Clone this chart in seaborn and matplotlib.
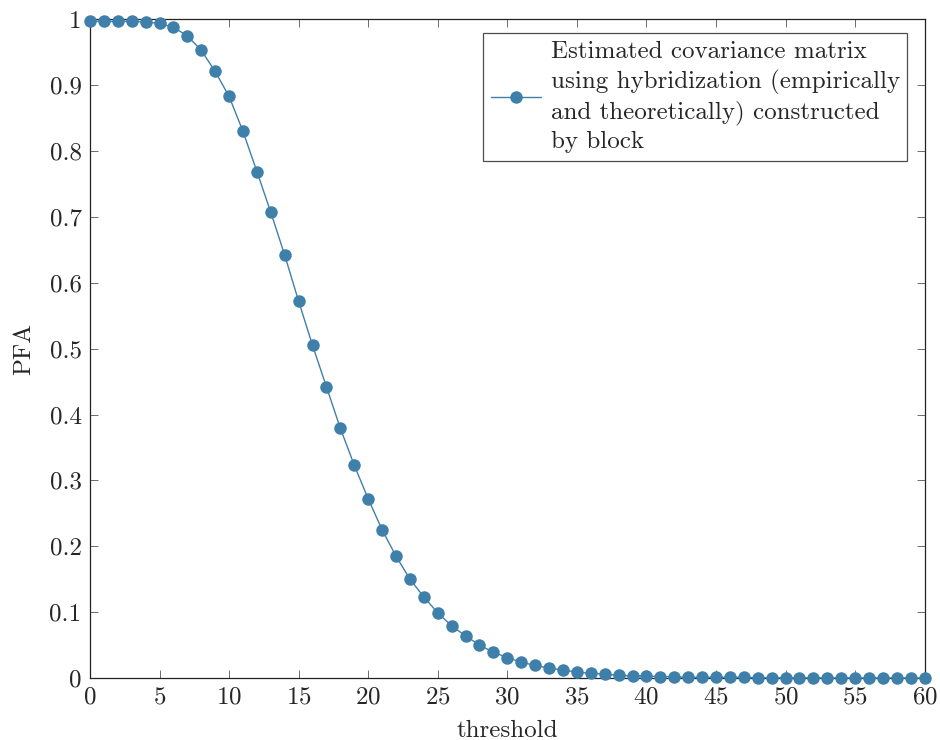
import numpy as np
import pandas as pd
import matplotlib
matplotlib.use("Agg")
import matplotlib.pyplot as plt
import seaborn as sns

sns.set_style("ticks")
plt.rcParams['font.family'] = ['cmr10', 'DejaVu Serif']
plt.rcParams['axes.formatter.use_mathtext'] = True
plt.rcParams['mathtext.fontset'] = 'cm'

# data
threshold = list(range(0, 61))
pfa = [0.997, 0.997, 0.997, 0.997, 0.996, 0.994, 0.988, 0.975, 0.953, 0.921,
       0.883, 0.830, 0.769, 0.707, 0.642, 0.572, 0.505, 0.442, 0.379, 0.323,
       0.272, 0.225, 0.185, 0.150, 0.123, 0.099, 0.079, 0.064, 0.050, 0.039,
       0.031, 0.024, 0.019, 0.015, 0.012, 0.009, 0.007, 0.006, 0.004, 0.003,
       0.003, 0.002, 0.002, 0.001, 0.001, 0.001, 0.001, 0.001, 0.0005, 0.0005,
       0.0004, 0.0003, 0.0003, 0.0002, 0.0002, 0.0001, 0.0001, 0.0001, 0.0001, 0.0, 0.0]
label = ("Estimated covariance matrix\nusing hybridization (empirically\n"
         "and theoretically) constructed\nby block")

df = pd.DataFrame({'threshold': threshold, 'PFA': pfa})

fig = plt.figure(figsize=(9.4, 7.4), dpi=100)
ax = fig.add_axes([0.0957, 0.0838, 0.888, 0.890])
sns.lineplot(x='threshold', y='PFA', data=df, ax=ax, color='#3f80aa',
             marker='o', markersize=9, markeredgewidth=0, linewidth=1.0,
             label=label, clip_on=False, zorder=3)

ax.set_xlim(0, 60)
ax.set_ylim(0, 1)
ax.set_xticks(np.arange(0, 61, 5))
ax.set_yticks(np.arange(0, 1.01, 0.1))
ax.set_yticklabels(['0', '0.1', '0.2', '0.3', '0.4', '0.5', '0.6', '0.7', '0.8', '0.9', '1'])
ax.tick_params(direction='in', top=True, right=True, labelsize=18, length=6,
               width=0.6, color='#555555', pad=6)
for s in ax.spines.values():
    s.set_linewidth(0.9)
    s.set_color('#222222')
ax.set_xlabel('threshold', fontsize=18, labelpad=8)
ax.set_ylabel('PFA', fontsize=18, labelpad=10)

leg = ax.legend(loc='upper right', bbox_to_anchor=(0.979, 0.979), fontsize=18,
                frameon=True, fancybox=False, edgecolor='#222222',
                handlelength=2.0, borderpad=0.3, handletextpad=0.4,
                borderaxespad=0)
leg.get_frame().set_linewidth(0.9)
for t in leg.get_texts():
    t.set_linespacing(1.36)

fig.savefig('out.png', dpi=100)
